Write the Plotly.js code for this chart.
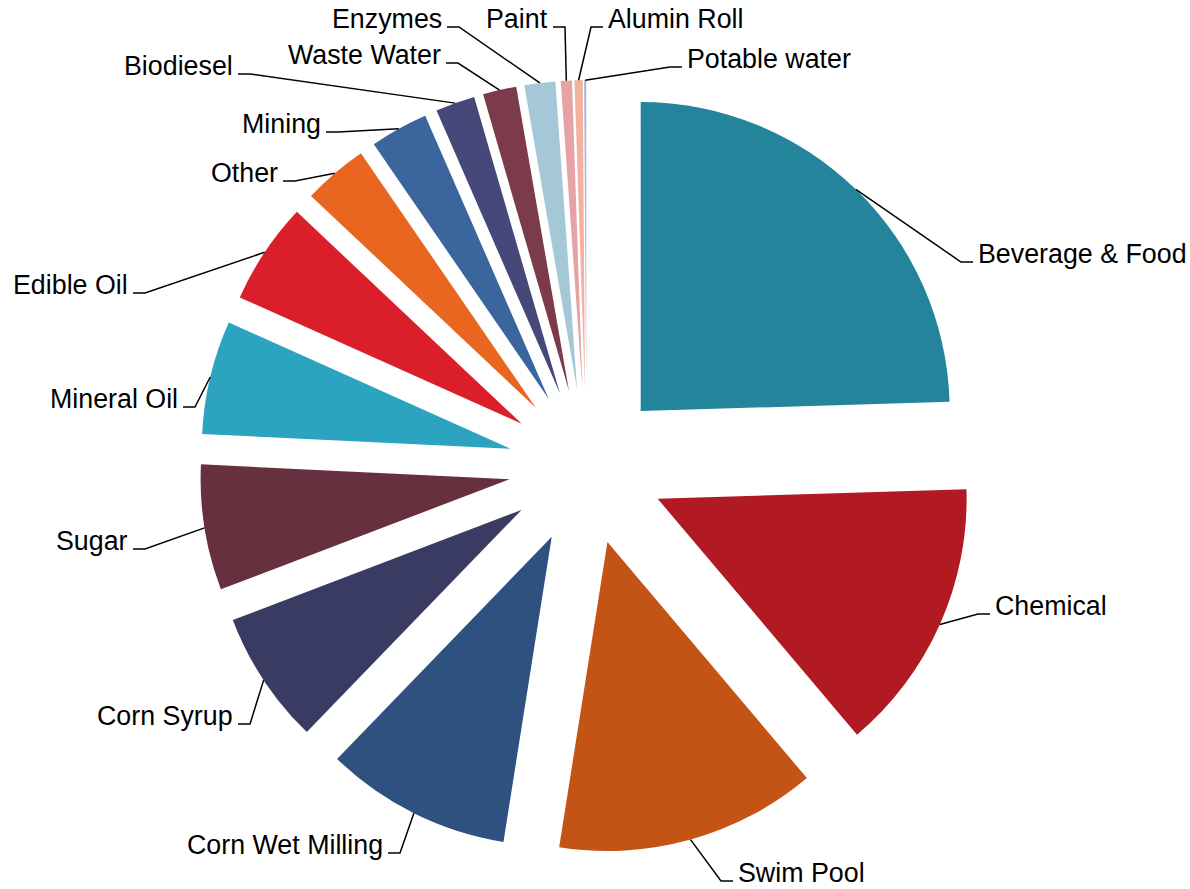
<!DOCTYPE html>
<html>
<head>
<meta charset="utf-8">
<script src="https://cdn.plot.ly/plotly-3.0.1.min.js"></script>
<style>
html, body { margin: 0; padding: 0; background: #ffffff; }
#chart { width: 1190px; height: 889px; }
</style>
</head>
<body>
<div id="chart"></div>
<script>
// ---- data ----
const categories = ["Beverage & Food", "Chemical", "Swim Pool", "Corn Wet Milling", "Corn Syrup",
  "Sugar", "Mineral Oil", "Edible Oil", "Other", "Mining", "Biodiesel", "Waste Water",
  "Enzymes", "Paint", "Alumin Roll", "Potable water"];
const shares = [24.49, 14.31, 13.65, 9.72, 6.97, 6.56, 5.93, 5.32, 3.39, 3.03, 2.06, 1.75, 1.61, 0.58, 0.43, 0.11];

// ---- style / layout ----
const sliceColors = ["#23849C", "#B11A22", "#C35416", "#2E5180", "#3A3B62", "#66303E", "#2CA3BF",
  "#DA1F2B", "#E8661F", "#3A659D", "#454878", "#7B3B4A", "#A4C8D7", "#E6A2A5", "#F2B29F", "#A9B5D8"];
const W = 1190, H = 889;
const CX = 586.5, CY = 467, R = 309, PULL = 0.252;
// label placement (pixel anchor where the leader line meets the text), side of text
const labelSide = ["r", "r", "r", "l", "l", "l", "l", "l", "l", "l", "l", "l", "l", "l", "r", "r"];
const labelAnchor = [[973, 262], [990, 614], [733, 881], [388, 853], [238, 724], [133, 549],
  [183, 407], [133, 293], [283, 181], [326, 132], [238, 74], [446, 63], [447, 27], [553, 27],
  [603, 27], [682, 67]];
const ELBOW = 12, TEXT_GAP = 5, TEXT_RAISE = 8;

const Rtot = R * (1 + PULL);
const px = x => x / W;
const py = y => 1 - y / H;

const total = shares.reduce((a, b) => a + b, 0);
let cum = 0;
const shapes = [];
const annotations = [];
shares.forEach((v, i) => {
  const a0 = cum / total * 2 * Math.PI;
  cum += v;
  const a1 = cum / total * 2 * Math.PI;
  const mid = (a0 + a1) / 2;
  const ux = Math.sin(mid), uy = -Math.cos(mid);
  const ax = CX + Rtot * ux, ay = CY + Rtot * uy;
  const [lx, ly] = labelAnchor[i];
  const right = labelSide[i] === "r";
  const ex = right ? lx - ELBOW : lx + ELBOW;
  shapes.push({
    type: "path", xref: "paper", yref: "paper",
    path: `M ${px(ax)} ${py(ay)} L ${px(ex)} ${py(ly)} L ${px(lx)} ${py(ly)}`,
    line: { color: "#000000", width: 1.5 }
  });
  annotations.push({
    xref: "paper", yref: "paper",
    x: px(right ? lx + TEXT_GAP : lx - TEXT_GAP),
    y: py(ly - TEXT_RAISE),
    xanchor: right ? "left" : "right", yanchor: "middle",
    text: categories[i], showarrow: false,
    borderpad: 0, borderwidth: 0,
    font: { family: "Liberation Sans, Arial, sans-serif", size: 26.8, color: "#000000" }
  });
});

const trace = {
  type: "pie",
  labels: categories,
  values: shares,
  sort: false,
  direction: "clockwise",
  rotation: 0,
  pull: PULL,
  marker: { colors: sliceColors, line: { width: 0 } },
  textinfo: "none",
  textposition: "none",
  hoverinfo: "none",
  showlegend: false,
  domain: {
    x: [px(CX - Rtot), px(CX + Rtot)],
    y: [py(CY + Rtot), py(CY - Rtot)]
  }
};

const layout = {
  width: W, height: H,
  margin: { l: 0, r: 0, t: 0, b: 0, pad: 0 },
  paper_bgcolor: "#ffffff",
  plot_bgcolor: "#ffffff",
  showlegend: false,
  shapes: shapes,
  annotations: annotations,
  font: { family: "Liberation Sans, Arial, sans-serif" }
};

Plotly.newPlot("chart", [trace], layout, { displayModeBar: false, staticPlot: true });
</script>
</body>
</html>
